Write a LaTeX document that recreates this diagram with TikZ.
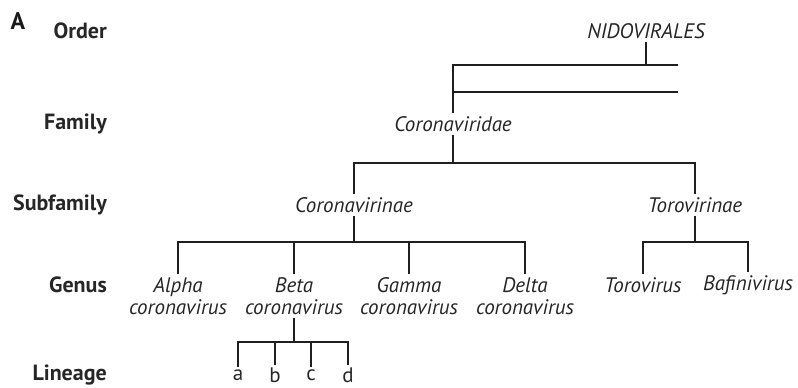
\documentclass[tikz,border=0pt]{standalone}
\usepackage{fontspec}
\setmainfont{PT Sans}
\begin{document}
\begin{tikzpicture}[x=1pt,y=-1pt,
  lw/.style={line width=2pt,color=black!88},
  taxon/.style={font=\fontsize{21}{22}\selectfont\itshape,inner sep=0pt,outer sep=3pt,align=center,text=black!85},
  rank/.style={font=\fontsize{22}{24}\selectfont\bfseries,anchor=east,inner sep=0pt,text=black!85},
  lin/.style={font=\fontsize{21}{22}\selectfont,inner sep=0pt,outer sep=3pt,text=black!85}]
\useasboundingbox (0,0) rectangle (798,388);
\node[font=\fontsize{24}{26}\selectfont\bfseries,inner sep=0pt,text=black!90] (A) at (18,21) {A};
\node[rank] (rOrder) at (107,31) {Order};
\node[rank] (rFamily) at (107,124) {Family};
\node[rank] (rSub) at (107,205) {Subfamily};
\node[rank] (rGenus) at (107,285) {Genus};
\node[rank] (rLin) at (107,375) {Lineage};
\node[taxon] (nido) at (646,31) {NIDOVIRALES};
\node[taxon] (corv) at (453,124) {Coronaviridae};
\node[taxon] (cvin) at (354,205) {Coronavirinae};
\node[taxon] (tvin) at (695,205) {Torovirinae};
\node[taxon] (alpha) at (178,296) {Alpha\\coronavirus};
\node[taxon] (beta) at (294,296) {Beta\\coronavirus};
\node[taxon] (gamma) at (409,296) {Gamma\\coronavirus};
\node[taxon] (delta) at (525,296) {Delta\\coronavirus};
\node[taxon] (toro) at (643,285) {Torovirus};
\node[taxon] (bafi) at (748,285) {Bafinivirus};
\node[lin] (la) at (238,375) {a};
\node[lin] (lb) at (275,375) {b};
\node[lin] (lc) at (311,375) {c};
\node[lin] (ld) at (348,375) {d};
% order
\coordinate (topR) at (678,65);
\coordinate (topL) at (453,65);
\coordinate (botL) at (453,92);
\coordinate (botR) at (678,92);
\draw[lw] (nido.south) -- (nido.south |- topR);
\draw[lw] (topR) -- (topL) -- (corv.north);
\draw[lw] (botL) -- (botR);
% family
\coordinate (fam) at (453,163);
\draw[lw] (corv.south) -- (fam);
\draw[lw] (cvin.north) -- (cvin.north |- fam) -- (tvin.north |- fam) -- (tvin.north);
% subfamilies
\coordinate (sub) at (354,242);
\draw[lw] (cvin.south) -- (sub);
\draw[lw] (alpha.north) -- (alpha.north |- sub) -- (delta.north |- sub) -- (delta.north);
\draw[lw] (beta.north) -- (beta.north |- sub);
\draw[lw] (gamma.north) -- (gamma.north |- sub);
\coordinate (tsub) at (695,242);
\draw[lw] (tvin.south) -- (tsub);
\draw[lw] (toro.north) -- (toro.north |- tsub) -- (bafi.north |- tsub) -- (bafi.north);
% lineages
\coordinate (lj) at (294,342);
\draw[lw] (beta.south) -- (lj);
\draw[lw] (la.north) -- (la.north |- lj) -- (ld.north |- lj) -- (ld.north);
\draw[lw] (lb.north) -- (lb.north |- lj);
\draw[lw] (lc.north) -- (lc.north |- lj);
\end{tikzpicture}
\end{document}
